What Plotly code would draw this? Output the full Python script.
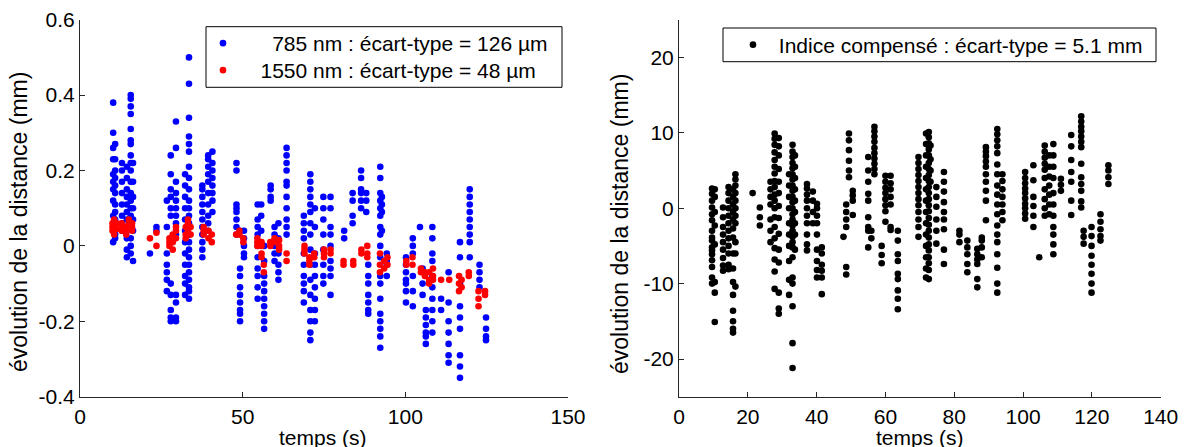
import plotly.graph_objects as go

# temps (s) de chaque série de mesures et évolution de la distance mesurée (mm)
t_785 = [10.2, 10.8, 12.9, 14.4, 15.6, 16.3, 21.5, 23.5, 26.7, 27.9, 29.5, 32.3, 33.5,
         37.6, 39.4, 40.7, 48.1, 49.2, 50.4, 54.6, 55.7, 56.6, 58.6, 59.8, 61.0, 63.5,
         68.8, 70.8, 72.2, 74.8, 77.0, 81.2, 83.8, 86.4, 88.0, 88.6, 92.3, 92.8, 94.3,
         100.2, 102.3, 104.5, 105.3, 106.3, 108.3, 111.0, 113.3, 116.8, 119.8, 122.8, 124.8]
d_785 = [
    [0.38, 0.30, 0.26, 0.23, 0.19, 0.17, 0.15, 0.12, 0.08, 0.05, 0.01],
    [0.27, 0.23, 0.20, 0.18, 0.16, 0.14, 0.11, 0.09, 0.07, 0.03, 0.02],
    [0.22, 0.20, 0.17, 0.14, 0.11, 0.08, 0.06, 0.04],
    [0.21, 0.18, 0.15, 0.13, 0.11, 0.09, 0.07, 0.04, 0.02, -0.01, -0.03],
    [0.40, 0.39, 0.37, 0.35, 0.31, 0.28, 0.27, 0.24, 0.22, 0.20, 0.17, 0.14, 0.12, 0.10,
     0.08, 0.05, 0.02, 0.00, -0.02],
    [0.22, 0.17, 0.13, 0.10, 0.07, 0.04, -0.04],
    [-0.02],
    [0.05, 0.04],
    [0.12, 0.05, -0.02, -0.05, -0.07, -0.09, -0.12],
    [0.24, 0.19, 0.15, 0.13, 0.10, 0.08, -0.10, -0.13, -0.17, -0.19, -0.20],
    [0.33, 0.26, 0.17, 0.14, 0.12, 0.10, 0.08, 0.06, 0.03, -0.13, -0.15, -0.19, -0.20],
    [0.19, 0.16, 0.13, 0.10, 0.07, 0.04, 0.01, -0.02, -0.05, -0.08, -0.10, -0.13],
    [0.50, 0.43, 0.34, 0.29, 0.27, 0.25, 0.21, 0.18, 0.15, 0.12, 0.10, 0.08, 0.06, 0.03,
     0.01, -0.01, -0.03, -0.05, -0.07, -0.09, -0.11, -0.12, -0.14],
    [0.16, 0.15, 0.13, 0.11, 0.09, 0.07, 0.05, 0.03, 0.01, -0.01, -0.03],
    [0.24, 0.23, 0.21, 0.19, 0.17, 0.14, 0.11, 0.08, 0.06, 0.04],
    [0.25, 0.22, 0.20, 0.18, 0.16, 0.14, 0.12, 0.09],
    [0.22, 0.20, 0.11, 0.10, 0.09, 0.07, 0.05, 0.03],
    [0.04, -0.06, -0.08, -0.11, -0.13, -0.15, -0.17, -0.18, -0.20],
    [0.04, 0.02, 0.00, -0.02, -0.03],
    [0.11, 0.07, 0.05, 0.03, 0.00, -0.03, -0.06, -0.08, -0.11, -0.14],
    [0.11, 0.08, 0.04],
    [0.00, -0.04, -0.08, -0.10, -0.12, -0.14, -0.16, -0.18, -0.20, -0.22],
    [0.16, 0.15, 0.13, 0.12],
    [0.05, 0.03, 0.00, -0.02, -0.04],
    [0.06, 0.02, -0.02, -0.05, -0.07, -0.09],
    [0.26, 0.24, 0.22, 0.20, 0.17, 0.16, 0.13, 0.10, 0.07, 0.05, 0.03],
    [0.08, 0.06, 0.04, 0.02, -0.02, -0.05, -0.08, -0.10, -0.12, -0.15],
    [0.19, 0.17, 0.15, 0.13, 0.11, 0.09, 0.06, 0.03, -0.01, -0.05, -0.09, -0.13, -0.17,
     -0.20, -0.23, -0.25],
    [0.10, 0.05, -0.02, -0.05, -0.08, -0.11, -0.14, -0.17, -0.20],
    [0.13, 0.10, 0.07, 0.03, -0.01, -0.05, -0.08, -0.10],
    [0.13, 0.10, 0.05, 0.03, 0.00, -0.04, -0.06, -0.08, -0.13],
    [0.04, 0.02],
    [0.14, 0.12, 0.08, 0.06],
    [0.20, 0.18, 0.15, 0.14, 0.12, 0.10],
    [0.14, 0.12, 0.09],
    [-0.05, -0.08, -0.10, -0.13, -0.15, -0.17, -0.18],
    [0.21, 0.18, 0.14, 0.12, 0.10, 0.08, 0.05, 0.03, 0.00, -0.03, -0.08, -0.10, -0.14,
     -0.18, -0.20, -0.22, -0.24, -0.27],
    [0.13, 0.11, 0.09, 0.04],
    [-0.02, -0.04, -0.05, -0.08],
    [-0.03, -0.05, -0.07, -0.09, -0.10, -0.12, -0.15],
    [0.02, 0.00, -0.02, -0.08, -0.12, -0.16],
    [0.05],
    [-0.06, -0.10, -0.13],
    [-0.17, -0.19, -0.21, -0.23, -0.24, -0.26],
    [0.05, 0.02, -0.02, -0.04, -0.08, -0.11, -0.14, -0.17, -0.20, -0.23],
    [-0.14, -0.17],
    [-0.07, -0.15, -0.20, -0.23, -0.26, -0.29, -0.31],
    [0.01, -0.03, -0.10, -0.16, -0.19, -0.22, -0.29, -0.32, -0.35],
    [0.15, 0.13, 0.11, 0.09, 0.07, 0.05, 0.03, 0.01, -0.03],
    [-0.05, -0.07, -0.09, -0.11],
    [-0.19, -0.22, -0.24, -0.25],
]

t_1550 = [10.0, 10.5, 11.2, 12.8, 14.2, 15.0, 16.0, 21.5, 23.5, 27.5, 28.5, 29.5, 32.5,
          33.2, 34.0, 38.0, 39.5, 40.5, 48.0, 49.0, 50.2, 54.5, 55.8, 56.5, 58.5, 59.8,
          61.2, 63.5, 69.0, 70.5, 72.0, 75.0, 77.0, 81.0, 84.0, 86.5, 88.3, 92.2, 93.5,
          94.5, 100.3, 102.2, 104.8, 106.0, 107.3, 108.5, 111.0, 113.5, 116.5, 117.3,
          119.5, 122.5, 124.5]
d_1550 = [
    [0.05, 0.06, 0.04], [0.07, 0.055, 0.03, 0.05], [0.06, 0.045],
    [0.05, 0.06, 0.04], [0.04, 0.05, 0.03], [0.06, 0.07, 0.05], [0.05, 0.06, 0.04],
    [0.02], [0.035, 0.0],
    [0.0, 0.01, 0.02], [0.03, -0.01, 0.01], [0.04, 0.05, 0.02],
    [0.02, 0.03, 0.05], [0.06, 0.07, 0.04], [0.05, 0.03],
    [0.04, 0.05, 0.03], [0.02, 0.04], [0.03, 0.01],
    [0.03], [0.04, 0.03], [0.02, 0.01],
    [0.01, 0.0, 0.02], [0.0, -0.02, -0.03, 0.01], [-0.05, -0.07],
    [0.01, 0.0], [0.02, 0.01], [0.0, -0.01, 0.015],
    [-0.02, -0.04],
    [-0.01, 0.0, -0.02], [-0.04, -0.05, -0.03], [-0.03, -0.02],
    [-0.01, -0.02, -0.03], [-0.01, -0.02],
    [-0.04, -0.05], [-0.04, -0.05],
    [-0.02, -0.01], [0.0, -0.02, -0.03],
    [-0.02, -0.05, -0.07], [-0.04, -0.06], [-0.03, -0.05],
    [-0.04, -0.05], [-0.03, -0.05],
    [-0.07, -0.06], [-0.08, -0.07], [-0.09, -0.10, -0.07], [-0.06, -0.08, -0.09],
    [-0.09], [-0.09],
    [-0.08, -0.10, -0.12], [-0.09, -0.11], [-0.08, -0.07],
    [-0.12, -0.14, -0.16], [-0.12, -0.13],
]

t_comp = [9.6, 10.4, 12.8, 14.4, 15.7, 16.4, 21.4, 23.5, 26.6, 27.8, 29.0, 32.0, 33.0,
          33.7, 37.2, 38.9, 40.1, 41.5, 47.8, 48.6, 49.4, 50.5, 55.0, 55.9, 56.8, 58.9,
          60.0, 61.5, 63.6, 69.6, 71.8, 72.6, 73.1, 74.8, 77.0, 81.5, 83.8, 86.7, 88.0,
          89.2, 92.5, 94.0, 100.6, 103.0, 104.7, 106.3, 107.6, 108.8, 111.0, 114.0,
          116.9, 117.6, 119.9, 122.5, 124.8]
d_comp = [
    [2.6, 1.9, 1.0, 0.1, -0.8, -1.6, -3.0, -3.9, -4.3, -5.2, -5.6, -6.1, -6.9, -7.8, -9.2, -10.0],
    [2.5, 1.5, -0.5, -2.3, -4.8, -9.8, -11.2, -15.1],
    [0.1, -1.2, -2.5, -3.5, -4.5, -5.5, -6.6, -7.6, -8.3],
    [2.8, 2.0, 1.0, 0.0, -1.0, -2.0, -3.0, -4.0, -5.0, -6.0, -7.5, -8.1],
    [2.5, 1.5, 0.5, -0.5, -1.5, -2.7, -3.9, -6.0, -8.0, -9.8, -11.5, -13.6, -15.0, -16.0, -16.5],
    [4.5, 3.8, 3.0, 2.0, 1.0, 0.0, -1.0, -2.0, -4.5, -6.0, -10.4],
    [2.0],
    [0.1, -1.2, -2.3],
    [3.5, 2.5, 1.5, 0.5, -1.5, -3.0, -4.5],
    [9.9, 9.2, 8.4, 7.4, 6.4, 5.5, 4.6, 3.6, 2.8, 1.8, 1.0, 0.0, -1.2, -2.5, -4.0, -5.3,
     -6.8, -8.4, -10.7],
    [9.3, 8.2, 7.0, 5.2, 3.5, 2.0, 0.3, -1.3, -3.4, -5.5, -7.2, -11.2, -13.3, -14.0],
    [4.5, 3.0, 1.5, 0.0, -2.0, -3.5, -5.0, -7.0, -9.5, -11.5],
    [8.4, 7.5, 6.8, 6.0, 5.3, 4.5, 3.8, 3.0, 2.3, 1.5, 0.8, 0.0, -0.8, -1.5, -2.3, -3.0,
     -3.8, -4.5, -5.2, -6.5, -9.2, -10.0, -13.0, -17.9, -21.2],
    [7.0, 5.5, 4.0, 2.5, 1.0, -0.5, -2.0, -3.5, -5.5],
    [3.2, 2.6, 1.8, 1.0, 0.0, -1.0, -2.0, -3.5, -4.8, -5.6],
    [2.2, 1.0, -0.5, -2.0],
    [0.6, 0.0, -1.0, -2.0, -3.5, -5.5, -7.0, -8.2, -9.2],
    [-5.2, -6.0, -7.5, -8.3, -9.2, -11.4],
    [-3.8],
    [0.5, -0.5, -1.5, -2.5, -7.8, -8.8],
    [9.9, 9.0, 7.7, 6.3, 5.0, 4.1],
    [2.3, 1.7, 1.0, -0.9],
    [6.8, 5.0, 3.5, 1.9, 1.0, -1.2, -2.5, -3.0, -5.2],
    [-3.0, -4.0],
    [10.8, 10.2, 9.5, 8.8, 8.0, 7.3, 6.6, 5.9, 5.2, 4.5],
    [-5.0, -6.2, -7.3],
    [4.3, 3.5, 2.7, 2.0, 1.2, 0.4, -0.4, -1.8],
    [4.3, 3.3, 2.5, 1.5, 0.5, -2.5, -2.9],
    [-3.0, -4.3, -6.1, -7.0, -8.7, -9.4, -10.9, -12.0, -13.4],
    [6.8, 6.0, 5.2, 4.4, 3.6, 2.8, 2.0, 1.2, 0.4, -0.5, -1.5, -2.5, -3.8],
    [9.9, 8.5, 7.0, 5.5, 4.0, 2.5, 1.0, -0.5, -2.0, -3.5, -5.0, -6.5, -8.0, -9.2],
    [10.1, 9.4, 8.6, 7.8, 7.0, 6.0, 5.2, 4.4, 3.6, 2.8, 2.0, 1.2, 0.4, -0.4, -1.3, -2.2,
     -3.0, -3.9, -4.8, -5.6, -6.5, -7.3, -8.2, -9.4],
    [8.3, 6.5, 5.0, 3.5],
    [2.8, 1.5, 0.2, -1.5, -3.0, -4.7],
    [4.8, 3.5, 2.2, 0.8, -0.5, -1.5, -2.8, -5.5, -7.4],
    [-3.0, -3.5, -4.5],
    [-4.3, -5.2, -6.1, -7.4, -8.5],
    [-5.4, -6.1, -6.8, -7.4, -9.4, -10.5],
    [-3.9, -4.3, -5.2, -6.5],
    [8.1, 7.5, 6.9, 6.2, 5.5, 4.5, 3.5, 2.3, 1.0, -1.6],
    [10.5, 9.8, 9.0, 8.2, 7.3, 5.8, 4.5, 3.0, 1.8, 0.5, -0.8, -2.3, -3.5, -4.5, -6.1,
     -7.9, -10.0, -11.2],
    [4.5, 3.6, 2.5, 1.5, 0.5, -0.5, -1.6],
    [4.8, 4.0, 3.3, 2.6, 2.0, 1.3, 0.6, 0.0, -0.7, -1.4],
    [5.7, 3.7, 1.5, 0.3, -1.0, -2.5],
    [-6.5],
    [8.3, 7.5, 6.7, 5.9, 5.1, 4.0, 2.5, 1.2, 0.0, -1.0],
    [7.0, 5.5, 4.2, 3.0, 1.8, 0.5, -0.8],
    [8.5, 7.0, 5.5, 4.0, 2.0, 0.5, -1.0, -2.5, -3.5, -4.8, -6.1],
    [3.9, 3.1, 2.3],
    [9.7, 8.2, 6.4, 4.8, 3.5, 1.0, -0.9],
    [12.2, 11.5, 10.8, 10.2, 9.5, 8.8, 8.1, 5.9, 4.1, 3.2, 2.3, 0.9, 0.1],
    [-3.0, -3.8, -4.7],
    [-2.5, -3.7, -5.0, -6.3, -7.5, -8.7, -10.0, -11.2],
    [-0.8, -1.8, -2.8, -3.7, -4.3],
    [5.7, 5.0, 4.1, 3.2],
]

yticks_left = [-0.4, -0.2, 0, 0.2, 0.4, 0.6]
yticks_left_txt = ["-0.4", "-0.2", "0", "0.2", "0.4", "0.6"]
xticks_left = [0, 50, 100, 150]
yticks_right = [-20, -10, 0, 10, 20]
yticks_right_txt = ["-20", "-10", "0", "10", "20"]
xticks_right = [0, 20, 40, 60, 80, 100, 120, 140]

FONT = "Liberation Sans, Arial, sans-serif"
W, H = 1187, 447
NB = "\u00a0"
MS = 6.6  # taille des points


def flatten(times, groups):
    xs, ys = [], []
    for t, g in zip(times, groups):
        xs += [t] * len(g)
        ys += g
    return xs, ys


def px(x):
    return x / W


def py(y):
    return 1 - y / H


fig = go.Figure()

x, y = flatten(t_785, d_785)
fig.add_trace(go.Scatter(x=x, y=y, mode="markers", xaxis="x", yaxis="y",
                         name=NB * 5 + "785 nm : écart-type = 126 µm", legend="legend",
                         showlegend=True,
                         marker=dict(color="#0000ff", size=MS, line=dict(width=0))))
x, y = flatten(t_1550, d_1550)
fig.add_trace(go.Scatter(x=x, y=y, mode="markers", xaxis="x", yaxis="y",
                         name=NB * 3 + "1550 nm : écart-type = 48 µm", legend="legend3",
                         showlegend=True,
                         marker=dict(color="#ff0000", size=MS, line=dict(width=0))))
x, y = flatten(t_comp, d_comp)
fig.add_trace(go.Scatter(x=x, y=y, mode="markers", xaxis="x2", yaxis="y2",
                         name=NB + "Indice compensé : écart-type = 5.1 mm", legend="legend2",
                         showlegend=True,
                         marker=dict(color="#000000", size=MS, line=dict(width=0))))

axis_style = dict(showline=True, linecolor="#262626", linewidth=1, mirror=False,
                  ticks="inside", ticklen=5, tickcolor="#262626", showgrid=False,
                  zeroline=False, automargin=False,
                  tickfont=dict(size=21, family=FONT, color="black"))

legend_style = dict(borderwidth=0, bgcolor="rgba(0,0,0,0)", xanchor="left",
                    yanchor="middle", font=dict(size=21, family=FONT, color="black"))

fig.update_layout(
    width=W, height=H,
    showlegend=True,
    margin=dict(l=0, r=0, t=0, b=0, autoexpand=False),
    paper_bgcolor="white", plot_bgcolor="white",
    font=dict(family=FONT, size=21, color="black"),
    xaxis=dict(domain=[px(80), px(568)], range=[0, 150], tickvals=xticks_left,
               anchor="y", ticklabelstandoff=1, **axis_style),
    yaxis=dict(domain=[py(396.7), py(19.7)], range=[-0.4, 0.6],
               tickvals=yticks_left, ticktext=yticks_left_txt, anchor="x", **axis_style),
    xaxis2=dict(domain=[px(679), px(1160.7)], range=[0, 140], tickvals=xticks_right,
                anchor="y2", ticklabelstandoff=1, **axis_style),
    yaxis2=dict(domain=[py(396.7), py(19.7)], range=[-25, 25],
                tickvals=yticks_right, ticktext=yticks_right_txt, anchor="x2", **axis_style),
    legend=dict(x=px(203), y=py(43.5), **legend_style),
    legend3=dict(x=px(203), y=py(70.5), **legend_style),
    legend2=dict(x=px(733), y=py(45), **legend_style),
    shapes=[
        dict(type="rect", xref="paper", yref="paper", x0=px(206), x1=px(562),
             y0=py(87.3), y1=py(26.7), line=dict(color="black", width=1),
             fillcolor="white", layer="below"),
        dict(type="rect", xref="paper", yref="paper", x0=px(723), x1=px(1156),
             y0=py(61.7), y1=py(28), line=dict(color="black", width=1),
             fillcolor="white", layer="below"),
    ],
    annotations=[
        dict(text="évolution de la distance (mm)", textangle=-90, x=px(19), y=py(222),
             xanchor="center", yanchor="middle", xref="paper", yref="paper",
             showarrow=False, font=dict(size=23)),
        dict(text="évolution de la distance (mm)", textangle=-90, x=px(620), y=py(224),
             xanchor="center", yanchor="middle", xref="paper", yref="paper",
             showarrow=False, font=dict(size=23)),
        dict(text="temps (s)", x=px(323), y=py(437), xanchor="center", yanchor="middle",
             xref="paper", yref="paper", showarrow=False, font=dict(size=21)),
        dict(text="temps (s)", x=px(920), y=py(437), xanchor="center", yanchor="middle",
             xref="paper", yref="paper", showarrow=False, font=dict(size=21)),
    ],
)

fig.write_html("out.html", config={"displayModeBar": False},
               post_script="document.body.style.margin = '0px';")
